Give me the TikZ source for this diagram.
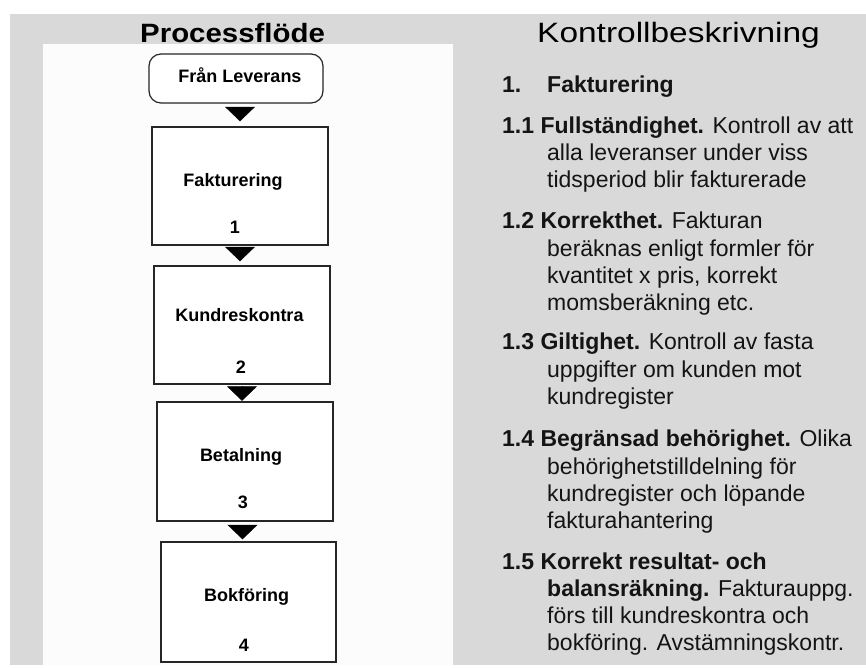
\documentclass[tikz,border=0pt]{standalone}
\usepackage{fontspec}
\setmainfont{Liberation Sans}
\usetikzlibrary{arrows.meta,calc}
\definecolor{slidegrey}{gray}{0.85}
\definecolor{inktext}{gray}{0.08}
\begin{document}
\begin{tikzpicture}[x=1pt,y=-1pt,
  stage/.style={draw=black!85, line width=1.4pt, fill=white, inner sep=0pt,
    minimum width=176pt, minimum height=118pt},
  startbox/.style={draw=black!85, line width=1.2pt, fill=white, inner sep=0pt,
    rounded corners=12pt, minimum width=174pt, minimum height=49pt},
  stagelabel/.style={anchor=base, inner sep=0pt, text=black,
    font=\bfseries\fontsize{18}{20}\selectfont},
  flowtip/.style={line width=0.5pt, draw=black, fill=black,
    -{Triangle[width=30pt,length=14.5pt]}},
  heading/.style={anchor=base west, inner sep=0pt, text=black},
  txt/.style={anchor=base west, inner sep=0pt, text=inktext,
    font=\fontsize{23}{27}\selectfont},
]
\useasboundingbox (0,0) rectangle (866,668);
\fill[white] (0,0) rectangle (866,668);
% slide background and the white panel behind the flow chart
\fill[slidegrey] (10,14) rectangle (866,665);
\fill[white!99!black] (43,44) rectangle (453,665);

% headings
\node[heading] (h1) at (140,43)
  {\scalebox{1.11}[1]{\bfseries\fontsize{26.5}{29}\selectfont Processflöde}};
\node[heading] (h2) at (537,43)
  {\scalebox{1.195}[1]{\fontsize{28}{31}\selectfont Kontrollbeskrivning}};

% flow chart
\node[startbox] (start) at (236,78.5) {};
\node[stagelabel] (t0) at ([xshift=4pt,yshift=-4.5pt]start.center) {Från Leverans};

\node[stage] (b1) at (240,186) {};
\node[stage] (b2) at (242,325) {};
\node[stage, minimum height=119pt] (b3) at (245,461.5) {};
\node[stage, minimum width=175pt, minimum height=120pt] (b4) at (248.5,602) {};

\node[stagelabel] (t1) at ([xshift=-7pt,yshift=-60pt]b1.north) {Fakturering};
\node[stagelabel] (n1) at ([xshift=-5pt,yshift=12pt]b1.south) {1};
\node[stagelabel] (t2) at ([xshift=-2.5pt,yshift=-56pt]b2.north) {Kundreskontra};
\node[stagelabel] (n2) at ([xshift=-1pt,yshift=11pt]b2.south) {2};
\node[stagelabel] (t3) at ([xshift=-4pt,yshift=-60pt]b3.north) {Betalning};
\node[stagelabel] (n3) at ([xshift=-2pt,yshift=13pt]b3.south) {3};
\node[stagelabel] (t4) at ([xshift=-2pt,yshift=-60pt]b4.north) {Bokföring};
\node[stagelabel] (n4) at ([xshift=-4.5pt,yshift=11pt]b4.south) {4};

\draw[flowtip, shorten <=4pt, shorten >=5pt] (start.south -| b1.north) -- (b1.north);
\draw[flowtip, shorten <=3pt, shorten >=4pt] (b1.south) -- (b1.south |- b2.north);
\draw[flowtip, shorten <=3pt, shorten >=0.5pt] (b2.south) -- (b2.south |- b3.north);
\draw[flowtip, shorten <=4pt, shorten >=2pt] (b3.south -| 242.5,0) -- (b4.north -| 242.5,0);

% control descriptions
\node[txt] (f0) at (502,93) {\bfseries 1.};
\node[txt] (f0b) at (547,93) {\bfseries Fakturering};

\node[txt] (a1) at (502,134) {\textbf{1.1 Fullständighet.} Kontroll av att};
\node[txt] (a2) at (547,161) {alla leveranser under viss};
\node[txt] (a3) at (547,188) {tidsperiod blir fakturerade};

\node[txt] (b1t) at (502,228) {\textbf{1.2 Korrekthet.} Fakturan};
\node[txt] (b2t) at (547,256) {beräknas enligt formler för};
\node[txt] (b3t) at (547,283) {kvantitet x pris, korrekt};
\node[txt] (b4t) at (547,310) {momsberäkning etc.};

\node[txt] (c1) at (502,349) {\textbf{1.3 Giltighet.} Kontroll av fasta};
\node[txt] (c2) at (547,377) {uppgifter om kunden mot};
\node[txt] (c3) at (547,404) {kundregister};

\node[txt] (d1) at (502,446) {\textbf{1.4 Begränsad behörighet.} Olika};
\node[txt] (d2) at (547,474) {behörighetstilldelning för};
\node[txt] (d3) at (547,501) {kundregister och löpande};
\node[txt] (d4) at (547,528) {fakturahantering};

\node[txt] (e1) at (502,569) {\textbf{1.5 Korrekt resultat- och}};
\node[txt] (e2) at (547,596) {\textbf{balansräkning.} Fakturauppg.};
\node[txt] (e3) at (547,623) {förs till kundreskontra och};
\node[txt] (e4) at (547,650) {bokföring. Avstämningskontr.};
\end{tikzpicture}
\end{document}
